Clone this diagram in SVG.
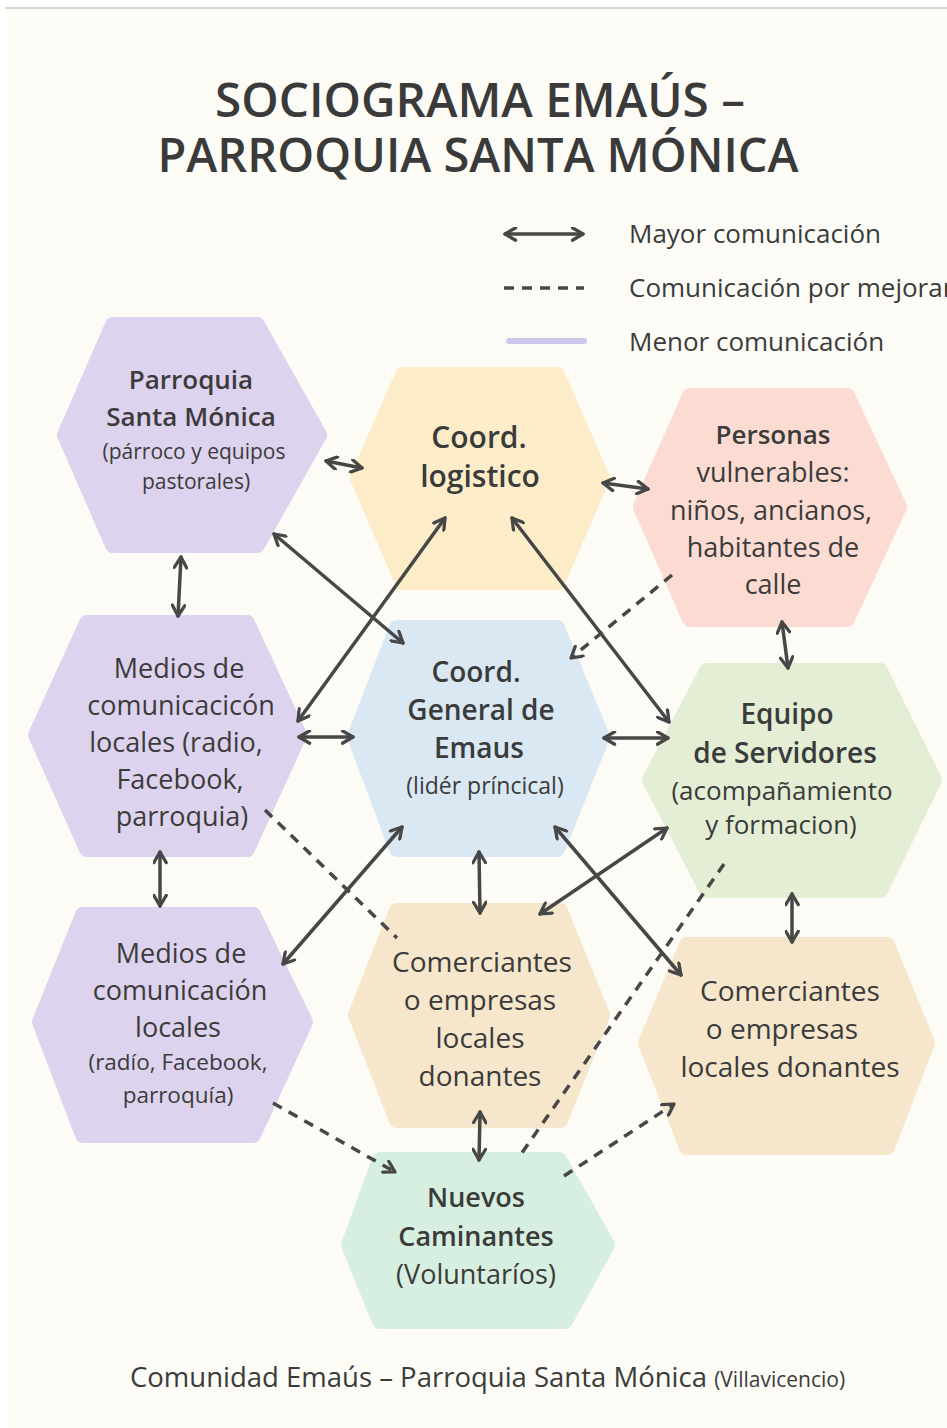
<svg xmlns="http://www.w3.org/2000/svg" width="947" height="1428" viewBox="0 0 947 1428">
<style>
text{font-family:"Open Sans","Liberation Sans",sans-serif;fill:#3b3b3b;text-anchor:middle}
.title{font-size:47px;font-weight:600;fill:#3a3a3a}
.b{font-size:26px;font-weight:600}
.m{font-size:27px;font-weight:500}
.s{font-size:21px;font-weight:400}
.leg{font-size:26px;text-anchor:start}
.hex{stroke-width:16;stroke-linejoin:round}
.pur{fill:#ddd3ee;stroke:#ddd3ee}
.yel{fill:#fcedc8;stroke:#fcedc8}
.pin{fill:#fcdcd2;stroke:#fcdcd2}
.blu{fill:#d9e8f2;stroke:#d9e8f2}
.grn{fill:#e3eed4;stroke:#e3eed4}
.tan{fill:#f6e6cb;stroke:#f6e6cb}
.mnt{fill:#d6efe0;stroke:#d6efe0}
.c{fill:none;stroke:#474747;stroke-width:3.5;stroke-linecap:round}
.d{stroke-dasharray:10 8;stroke-linecap:butt}
.both{marker-start:url(#ah);marker-end:url(#ah)}
.end{marker-end:url(#ah)}
</style>
<defs>
<marker id="ah" viewBox="0 0 12 12" refX="10" refY="6" markerWidth="15" markerHeight="15" markerUnits="userSpaceOnUse" orient="auto-start-reverse">
<path d="M1.5,1 L10,6 L1.5,11" fill="none" stroke="#474747" stroke-width="2.6" stroke-linecap="round" stroke-linejoin="round"/>
</marker>
</defs>
<rect width="947" height="1428" fill="#ffffff"/>
<rect x="8" y="8" width="939" height="1420" fill="#fcfbf6"/>
<line x1="5" y1="8" x2="947" y2="8" stroke="#c8c8c8" stroke-width="1.5"/>

<g id="title">
<text class="title" x="480" y="117" textLength="530" lengthAdjust="spacingAndGlyphs">SOCIOGRAMA EMAÚS –</text>
<text class="title" x="478" y="172" textLength="641" lengthAdjust="spacingAndGlyphs">PARROQUIA SANTA MÓNICA</text>
</g>

<g id="legend">
<line class="c both" x1="505" y1="234" x2="583" y2="234"/>
<text class="leg" x="629" y="243">Mayor comunicación</text>
<line class="c d" x1="504" y1="288" x2="584" y2="288"/>
<text class="leg" x="629" y="297">Comunicación por mejorar</text>
<line x1="509" y1="341" x2="584" y2="341" stroke="#cfc6ec" stroke-width="6" stroke-linecap="round"/>
<text class="leg" x="629" y="351">Menor comunicación</text>
</g>

<g id="n-parroquia">
<polygon class="hex pur" points="65,435 113,325 257,325 319,435 257,545 113,545"/>
<text class="b" x="191" y="389">Parroquia</text>
<text class="b" x="191" y="426">Santa Mónica</text>
<text class="s" x="194" y="459">(párroco y equipos</text>
<text class="s" x="196" y="489">pastorales)</text>
</g>

<g id="n-logistico">
<polygon class="hex yel" points="358,478 403,375 557,375 602,478 557,582 403,582"/>
<text class="b" x="479" y="448" style="font-size:30px">Coord.</text>
<text class="b" x="480" y="487" style="font-size:30px">logistico</text>
</g>

<g id="n-personas">
<polygon class="hex pin" points="641,507 690,396 847,396 899,507 847,619 690,619"/>
<text class="m" x="773" y="444" style="font-weight:600;font-size:26px">Personas</text>
<text class="m" x="773" y="482">vulnerables:</text>
<text class="m" x="771" y="520">niños, ancianos,</text>
<text class="m" x="773" y="557">habitantes de</text>
<text class="m" x="773" y="594">calle</text>
</g>

<g id="n-medios1">
<polygon class="hex pur" points="36,735 87,623 247,623 299,735 247,849 87,849"/>
<text class="m" x="179" y="678">Medios de</text>
<text class="m" x="181" y="715">comunicacicón</text>
<text class="m" x="176" y="752">locales (radio,</text>
<text class="m" x="180" y="789">Facebook,</text>
<text class="m" x="182" y="826">parroquia)</text>
</g>

<g id="n-general">
<polygon class="hex blu" points="355,737 397,628 557,628 602,737 557,849 397,849"/>
<text class="b" x="476" y="682" style="font-size:28px">Coord.</text>
<text class="b" x="481" y="720" style="font-size:28px">General de</text>
<text class="b" x="479" y="758" style="font-size:28px">Emaus</text>
<text class="s" x="485" y="794" style="font-size:23px">(lidér príncical)</text>
</g>

<g id="n-equipo">
<polygon class="hex grn" points="650,780 707,671 880,671 934,780 880,890 707,890"/>
<text class="b" x="787" y="724" style="font-size:28px">Equipo</text>
<text class="b" x="785" y="763" style="font-size:28px">de Servidores</text>
<text class="m" x="782" y="800" style="font-size:26px">(acompañamiento</text>
<text class="m" x="781" y="834" style="font-size:26px">y formacion)</text>
</g>

<g id="n-medios2">
<polygon class="hex pur" points="40,1022 83,915 253,915 305,1022 253,1135 83,1135"/>
<text class="m" x="181" y="963">Medios de</text>
<text class="m" x="180" y="1000">comunicación</text>
<text class="m" x="178" y="1037">locales</text>
<text class="s" x="178" y="1070" style="font-size:22.5px">(radío, Facebook,</text>
<text class="s" x="178" y="1103" style="font-size:22.5px">parroquía)</text>
</g>

<g id="n-comerciantes1">
<polygon class="hex tan" points="356,1015 397,911 560,911 602,1015 560,1120 397,1120"/>
<text class="m" x="482" y="972" style="font-size:28px">Comerciantes</text>
<text class="m" x="480" y="1010" style="font-size:28px">o empresas</text>
<text class="m" x="480" y="1048" style="font-size:28px">locales</text>
<text class="m" x="480" y="1086" style="font-size:28px">donantes</text>
</g>

<g id="n-comerciantes2">
<polygon class="hex tan" points="646,1043 687,945 887,945 927,1043 887,1147 687,1147"/>
<text class="m" x="790" y="1001" style="font-size:28px">Comerciantes</text>
<text class="m" x="782" y="1039" style="font-size:28px">o empresas</text>
<text class="m" x="790" y="1077" style="font-size:28px">locales donantes</text>
</g>

<g id="n-nuevos">
<polygon class="hex mnt" points="349,1245 380,1160 559,1160 607,1245 565,1321 380,1321"/>
<text class="b" x="476" y="1207" style="font-size:27px">Nuevos</text>
<text class="b" x="476" y="1246" style="font-size:27px">Caminantes</text>
<text class="m" x="476" y="1284" style="font-size:27px">(Voluntaríos)</text>
</g>

<g id="connectors">
<line class="c both" x1="326" y1="461" x2="362" y2="468"/>
<line class="c both" x1="603" y1="483" x2="648" y2="489"/>
<line class="c both" x1="181" y1="557" x2="178" y2="616"/>
<line class="c both" x1="274" y1="534" x2="403" y2="643"/>
<line class="c both" x1="445" y1="518" x2="298" y2="721"/>
<line class="c both" x1="512" y1="518" x2="669" y2="722"/>
<line class="c d end" x1="672" y1="575" x2="571" y2="658"/>
<line class="c both" x1="299" y1="737" x2="353" y2="737"/>
<line class="c both" x1="604" y1="738" x2="668" y2="738"/>
<line class="c both" x1="782" y1="622" x2="788" y2="668"/>
<line class="c both" x1="160" y1="852" x2="160" y2="906"/>
<line class="c d" x1="265" y1="810" x2="397" y2="938"/>
<line class="c both" x1="402" y1="827" x2="283" y2="964"/>
<line class="c both" x1="479" y1="852" x2="480" y2="913"/>
<line class="c both" x1="555" y1="827" x2="681" y2="975"/>
<line class="c both" x1="667" y1="828" x2="540" y2="914"/>
<line class="c d" x1="724" y1="864" x2="519" y2="1157"/>
<line class="c both" x1="792" y1="894" x2="792" y2="942"/>
<line class="c d end" x1="273" y1="1103" x2="395" y2="1172"/>
<line class="c both" x1="480" y1="1112" x2="479" y2="1160"/>
<line class="c d end" x1="564" y1="1176" x2="674" y2="1104"/>
</g>

<g id="footer">
<text x="130" y="1387" style="font-size:27.5px;text-anchor:start">Comunidad Emaús – Parroquia Santa Mónica <tspan style="font-size:21px">(Villavicencio)</tspan></text>
</g>
</svg>
